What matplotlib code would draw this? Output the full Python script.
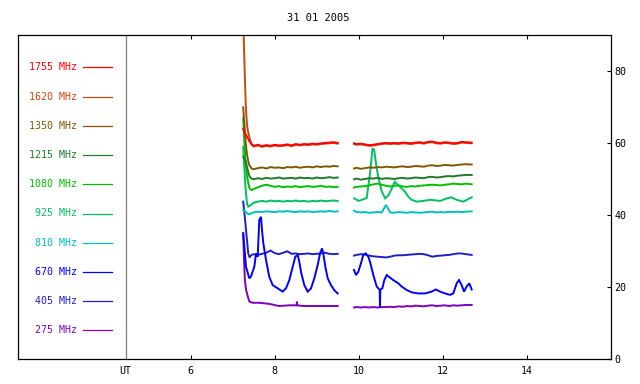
import matplotlib
matplotlib.use("Agg")
import matplotlib.pyplot as plt

# ---------------- data ----------------
title = "31 01 2005"
freqs = ["1755", "1620", "1350", "1215", "1080", "925", "810", "670", "405", "275"]
colors = ["#ff0000", "#c84a10", "#805800", "#207a28", "#00c000",
          "#00c060", "#00c0c0", "#0000ff", "#2020c0", "#8000c0"]
xticks = [6, 8, 10, 12, 14]
yticks = [0, 20, 40, 60, 80]

# shared time grids (hours UT) for the smoother channels
tA = [7.25, 7.28, 7.31, 7.34, 7.37, 7.40, 7.45, 7.5, 7.6, 7.7, 7.8, 7.9, 8.0, 8.1,
      8.2, 8.3, 8.4, 8.5, 8.6, 8.7, 8.8, 8.9, 9.0, 9.1, 9.2, 9.3, 9.4, 9.5]
tB = [9.89, 9.95, 10.05, 10.15, 10.25, 10.35, 10.45, 10.55, 10.65, 10.75, 10.85,
      10.95, 11.05, 11.15, 11.25, 11.35, 11.45, 11.55, 11.65, 11.75, 11.85, 11.95,
      12.05, 12.15, 12.25, 12.35, 12.45, 12.55, 12.69]

v1755A = [64.0, 63.0, 62.5, 61.8, 61.2, 60.5, 59.8, 59.3, 59.6, 59.2, 59.5, 59.3, 59.6, 59.4,
          59.5, 59.7, 59.4, 59.8, 59.6, 59.8, 59.7, 59.9, 59.8, 60.0, 60.1, 60.2, 60.3, 60.1]
v1755B = [60.0, 59.8, 59.9, 59.7, 59.5, 59.6, 59.8, 60.0, 60.1, 60.0, 60.1, 60.0, 60.2, 60.1,
          60.0, 60.2, 60.3, 60.1, 60.4, 60.5, 60.2, 60.1, 60.3, 60.2, 60.0, 60.1, 60.4, 60.3, 60.2]
v1620A = [95.0, 82.0, 71.0, 65.0, 63.0, 61.5, 59.6, 59.1, 59.4, 59.0, 59.3, 59.1, 59.4, 59.2,
          59.3, 59.5, 59.2, 59.6, 59.4, 59.6, 59.5, 59.7, 59.6, 59.8, 59.9, 60.0, 60.1, 59.9]
v1620B = [59.8, 59.6, 59.7, 59.5, 59.3, 59.4, 59.6, 59.8, 59.9, 59.8, 59.9, 59.8, 60.0, 59.9,
          59.8, 60.0, 60.1, 59.9, 60.2, 60.3, 60.0, 59.9, 60.1, 60.0, 59.8, 59.9, 60.2, 60.1, 60.0]
v1350A = [70.0, 65.0, 60.0, 57.0, 55.0, 53.8, 53.0, 52.8, 53.1, 53.3, 53.0, 53.4, 53.2, 53.3,
          53.1, 53.4, 53.3, 53.5, 53.2, 53.4, 53.5, 53.3, 53.6, 53.4, 53.6, 53.5, 53.7, 53.6]
v1350B = [53.0, 53.2, 52.9, 53.1, 53.3, 53.2, 53.4, 53.3, 53.5, 53.4, 53.3, 53.5, 53.6, 53.4,
          53.5, 53.7, 53.6, 53.5, 53.8, 53.9, 53.7, 53.8, 54.0, 53.9, 53.8, 54.0, 54.1, 54.2, 54.1]
v1215A = [56.3, 55.5, 55.0, 53.5, 52.0, 50.8, 50.2, 50.0, 50.3, 50.1, 50.4, 50.2, 50.3, 50.5,
          50.2, 50.3, 50.4, 50.2, 50.5, 50.3, 50.4, 50.2, 50.5, 50.3, 50.4, 50.6, 50.4, 50.5]
v1215B = [50.0, 50.2, 49.9, 50.1, 50.3, 50.2, 50.4, 50.1, 50.3, 50.2, 50.1, 50.3, 50.4, 50.2,
          50.3, 50.5, 50.4, 50.3, 50.6, 50.7, 50.5, 50.6, 50.8, 50.9, 50.8, 51.0, 51.1, 51.2, 51.2]
v1080A = [67.0, 60.0, 54.0, 51.0, 49.0, 47.5, 47.0, 47.3, 47.8, 48.2, 48.5, 48.2, 47.9, 48.1,
          47.8, 48.0, 47.9, 48.1, 47.8, 48.0, 48.1, 47.9, 48.0, 48.2, 47.9, 48.0, 47.8, 47.9]
v1080B = [47.7, 47.9, 48.0, 48.1, 48.3, 48.6, 48.8, 48.5, 48.2, 48.0, 48.2, 48.3, 48.0, 47.9,
          48.1, 48.0, 48.2, 48.3, 48.4, 48.5, 48.4, 48.3, 48.5, 48.6, 48.8, 48.7, 48.6, 48.8, 48.6]
v810A = [41.5, 41.2, 41.0, 40.6, 40.3, 40.3, 40.6, 40.8, 41.0, 40.9, 41.1, 41.0, 40.9, 41.1,
         41.0, 41.2, 41.0, 40.9, 41.1, 41.0, 41.1, 40.9, 41.0, 41.1, 41.0, 41.2, 41.0, 41.1]
v810B = [41.3, 40.9, 40.8, 40.9, 40.7, 40.8, 40.9, 40.8, 42.9, 40.8, 40.7, 40.9, 40.8, 40.7,
         40.9, 40.8, 40.7, 40.8, 40.9, 41.0, 40.8, 40.9, 40.8, 41.0, 40.9, 41.0, 40.9, 41.0, 41.1]
v405A = [43.8, 40.5, 36.8, 33.1, 29.4, 28.3, 29.0, 29.2, 29.0, 29.3, 29.6, 30.2, 29.5, 29.2,
         29.6, 30.0, 29.3, 29.4, 29.2, 29.3, 29.4, 29.2, 29.3, 29.4, 29.6, 29.3, 29.2, 29.3]
v405B = [28.8, 29.0, 29.2, 29.1, 28.8, 28.6, 28.5, 28.4, 28.3, 28.5, 28.8, 28.9, 28.9, 29.0,
         29.1, 29.2, 29.3, 29.2, 28.9, 28.5, 28.7, 28.8, 28.9, 29.0, 29.2, 29.4, 29.4, 29.2, 29.0]

# 925 MHz (own time grid after the gap, with the burst near 10.3 UT)
t925B = [9.89, 10.0, 10.19, 10.27, 10.33, 10.37, 10.41, 10.47, 10.55, 10.63, 10.71, 10.79,
         10.86, 10.94, 11.02, 11.10, 11.18, 11.26, 11.38, 11.54, 11.70, 11.94, 12.10,
         12.21, 12.33, 12.49, 12.69]
v925A = [59.0, 52.6, 47.0, 43.3, 42.4, 42.6, 43.0, 43.5, 43.8, 44.0, 43.8, 44.1, 43.9, 44.0,
         43.8, 44.0, 43.9, 44.1, 43.9, 44.0, 43.8, 44.0, 43.9, 44.1, 43.9, 44.0, 44.1, 44.0]
v925B = [44.7, 44.0, 44.8, 51.7, 58.6, 58.1, 54.5, 50.3, 46.6, 44.7, 45.6, 47.5,
         49.3, 48.4, 47.5, 46.6, 45.2, 44.3, 43.8, 44.0, 44.3, 44.0, 44.7,
         45.0, 44.3, 43.8, 45.0]

# 670 MHz
t670A = [7.25, 7.317, 7.395, 7.436, 7.514, 7.555, 7.595, 7.633, 7.674, 7.698, 7.729, 7.793,
         7.871, 7.952, 8.071, 8.19, 8.269, 8.348, 8.429, 8.49, 8.548, 8.586, 8.626, 8.705,
         8.786, 8.864, 8.943, 9.024, 9.079, 9.126, 9.157, 9.205, 9.262, 9.34, 9.419, 9.5]
v670A = [35.0, 25.7, 22.5, 23.0, 25.7, 29.4, 28.5, 38.7, 39.6, 35.9, 32.2, 27.6,
         22.9, 20.6, 19.7, 18.8, 19.7, 22.0, 25.7, 28.5, 29.0, 27.1, 24.3, 20.6,
         18.8, 19.7, 22.5, 26.2, 29.4, 30.8, 29.4, 25.7, 22.5, 20.6, 19.2, 18.3]
t670B = [9.888, 9.936, 9.99, 10.055, 10.11, 10.167, 10.229, 10.269, 10.348, 10.429, 10.50,
         10.507, 10.514, 10.562, 10.61, 10.667, 10.721, 10.824, 10.943, 11.024, 11.143,
         11.262, 11.419, 11.579, 11.738, 11.833, 11.936, 12.055, 12.174, 12.252, 12.333,
         12.388, 12.452, 12.507, 12.571, 12.633, 12.69]
v670B = [24.8, 23.4, 24.3, 26.7, 29.0, 29.4, 28.5, 27.1, 23.4, 20.2, 19.3,
         14.4, 19.3, 19.7, 22.0, 23.4, 22.9, 22.0, 21.1, 20.2, 19.25,
         18.6, 18.3, 18.3, 18.8, 19.4, 18.8, 18.3, 17.9, 18.3, 21.1,
         22.0, 20.6, 18.8, 20.2, 21.1, 19.4]

# 275 MHz
t275A = [7.25, 7.27, 7.29, 7.32, 7.36, 7.40, 7.48, 7.63, 7.87, 8.10, 8.35, 8.52, 8.53,
         8.54, 8.66, 9.05, 9.50]
v275A = [35.0, 27.6, 22.0, 19.25, 17.4, 16.0, 15.7, 15.7, 15.4, 14.8, 15.0, 15.0, 16.0,
         15.0, 14.8, 14.8, 14.8]
v275B = [14.4, 14.5, 14.4, 14.5, 14.4, 14.5, 14.4, 14.5, 14.5, 14.6, 14.5, 14.7, 14.6, 14.8,
         14.7, 14.9, 14.8, 14.7, 14.9, 15.0, 14.8, 14.9, 15.0, 14.8, 15.0, 14.9, 15.0, 15.1, 15.1]

series = {
    "1755": [(tA, v1755A), (tB, v1755B)],
    "1620": [(tA, v1620A), (tB, v1620B)],
    "1350": [(tA, v1350A), (tB, v1350B)],
    "1215": [(tA, v1215A), (tB, v1215B)],
    "1080": [(tA, v1080A), (tB, v1080B)],
    "925": [(tA, v925A), (t925B, v925B)],
    "810": [(tA, v810A), (tB, v810B)],
    "670": [(t670A, v670A), (t670B, v670B)],
    "405": [(tA, v405A), (tB, v405B)],
    "275": [(t275A, v275A), (tB, v275B)],
}

# ---------------- figure ----------------
mono = "DejaVu Sans Mono"
plt.rcParams["font.family"] = mono
fig = plt.figure(figsize=(6.4, 3.84), dpi=100)
ax = fig.add_axes([18 / 640, (384 - 359.3) / 384, (611 - 18) / 640, (359.3 - 35.3) / 384])
ax.set_xlim(1.888, 16.007)
ax.set_ylim(0, 90)

# draw from lowest frequency up so red ends on top
for f, c in reversed(list(zip(freqs, colors))):
    for t, v in series[f]:
        ax.plot(t, v, color=c, lw=1.4, solid_joinstyle="miter")

# legend-like labels at the left
for i, (f, c) in enumerate(zip(freqs, colors)):
    y = 81.1 - 8.12 * i
    ax.text(3.293, y, f"{f} MHz", ha="right", va="center", color=c, fontsize=7.2)
    ax.plot([3.436, 4.126], [y, y], color=c, lw=0.9)

ax.axvline(4.46, color="#808080", lw=0.9)

for s in ax.spines.values():
    s.set_linewidth(0.9)

ax.set_xticks(xticks)
ax.set_xticklabels([str(x) for x in xticks])
ax.tick_params(axis="x", direction="in", top=True, bottom=True, length=3, width=0.8,
               labelsize=7.2, pad=5)
ax.yaxis.tick_right()
ax.set_yticks(yticks)
ax.set_yticklabels([str(y) for y in yticks])
ax.tick_params(axis="y", direction="in", left=False, right=True, length=3, width=0.8,
               labelsize=7.2, pad=2.5)

ax.annotate("UT", xy=(4.44, 0), xycoords=("data", "axes fraction"),
            xytext=(0, -5), textcoords="offset points", ha="center", va="top", fontsize=7.2)

fig.text(318 / 640, 1 - 18 / 384, title, ha="center", va="center", fontsize=7.5)

fig.savefig("out.png", dpi=100)
